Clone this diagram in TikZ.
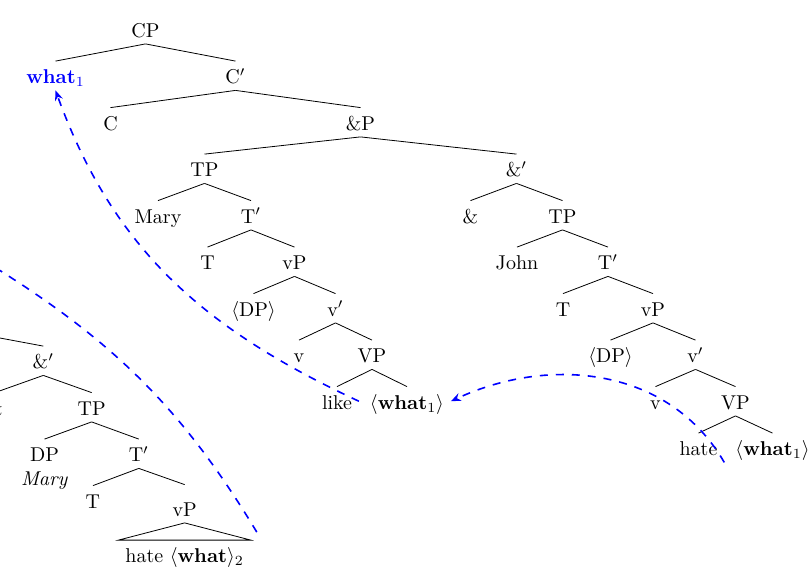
\documentclass[tikz,border=0pt]{standalone}
\usetikzlibrary{positioning,arrows.meta}

\begin{document}
\begin{tikzpicture}[x=0.5pt,y=0.5pt,level distance=27.125pt,
    edge from parent path={(\tikzparentnode.south) -- (\tikzchildnode.north)}]
      \tikzstyle{lbl}=[anchor=base,text height=7.75pt,text depth=0pt,inner sep=3.25pt]
      \tikzstyle{every node}=[lbl]
      \tikzstyle{movearrow}=[blue,thick,dash pattern=on 4pt off 4pt,-{Stealth[length=5pt,width=4pt]}]
      \useasboundingbox (0,0) rectangle (809,-573);
      \clip (0,0) rectangle (809,-573);
      % main tree
      \node (cp) at (145.5,-37) {CP} [sibling distance=90pt]
        child {node (what1) [text=blue] {\textbf{what}$_1$}}
        child {node (cbar) {C$'$} [sibling distance=125pt]
          child {node (c) {C}}
          child {node (andp) {\&P} [sibling distance=156pt]
            child {node (tpa) {TP} [sibling distance=46.5pt]
              child {node (mary) {Mary}}
              child {node (tbara) {T$'$} [sibling distance=43.5pt]
                child {node (ta) {T}}
                child {node (vpa) {vP} [sibling distance=41pt]
                  child {node (dpa) {$\langle$DP$\rangle$}}
                  child {node (vbara) {v$'$} [sibling distance=36.5pt]
                    child {node (va) {v}}
                    child {node (vpla) {VP} [sibling distance=35pt]
                      child {node (like) {like}}
                      child {node (likewhat) {$\langle$\textbf{what$_1$}$\rangle$}}
                    }
                  }
                }
              }
            }
            child {node (andbar) {\&$'$} [sibling distance=46pt]
              child {node (and) {\&}}
              child {node (tpb) {TP} [sibling distance=45.5pt]
                child {node (john) {John}}
                child {node (tbarb) {T$'$} [sibling distance=45pt]
                  child {node (tb) {T}}
                  child {node (vpb) {vP} [sibling distance=42.5pt]
                    child {node (dpb) {$\langle$DP$\rangle$}}
                    child {node (vbarb) {v$'$} [sibling distance=40pt]
                      child {node (vb) {v}}
                      child {node (vplb) {VP} [sibling distance=37pt]
                        child {node (hate) {hate}}
                        child {node (hatewhat) {$\langle$\textbf{what$_1$}$\rangle$}}
                      }
                    }
                  }
                }
              }
            }
          }
        };
      % second tree, cut at the left edge
      \coordinate (andp2) at (-51,-328.5);
      \node (andbar2) at (43.3,-368.5) {\&$'$} [sibling distance=48.35pt]
        child {node (and2) {\&}}
        child {node (tp2) {TP} [sibling distance=47.15pt]
          child {node (dp2) {DP}}
          child {node (tbar2) {T$'$} [sibling distance=45.85pt]
            child {node (t2) {T}}
            child[yshift=-4pt] {node (vp2) [text height=12.25pt] {vP}
              child[level distance=29.375pt] {node (hate2) {hate $\langle$\textbf{what}$\rangle_2$} edge from parent[draw=none]}
            }
          }
        };
      \draw (andp2) -- (andbar2.north);
      \node (mary2) [below=-2.75pt of dp2] {\textit{Mary}};
      \draw (vp2.south) -- (hate2.north west) -- (hate2.north east) -- cycle;
      % movement
      \coordinate (what2) at (-40,-246);
      \draw[movearrow] (like.east) to[out=155,in=-70] (what1.south);
      \draw[movearrow] (hate.south east) to[out=120,in=25] (likewhat.east);
      \draw[movearrow] ([xshift=3pt,yshift=4pt]hate2.north east) to[out=121,in=-31] (what2);
\end{tikzpicture}
\end{document}
